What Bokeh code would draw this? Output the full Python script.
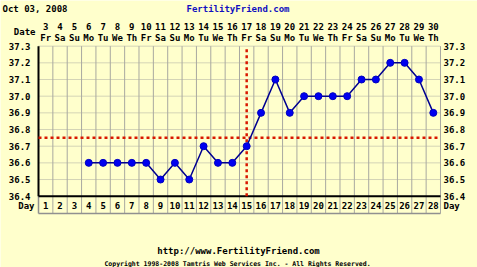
from bokeh.plotting import figure
from bokeh.models import Range1d, ColumnDataSource
from bokeh.core.properties import value
from bokeh.embed import file_html
from bokeh.resources import INLINE

# ---------------- data ----------------
cycle_days = list(range(1, 29))
date_numbers = [str(d) for d in range(3, 31)]
weekdays = ["Fr", "Sa", "Su", "Mo", "Tu", "We", "Th"] * 4
temp_days = list(range(4, 29))
temps = [36.6, 36.6, 36.6, 36.6, 36.6, 36.5, 36.6, 36.5, 36.7, 36.6, 36.6,
         36.7, 36.9, 37.1, 36.9, 37.0, 37.0, 37.0, 37.0, 37.1, 37.1, 37.2,
         37.2, 37.1, 36.9]
temp_ticks = [36.4, 36.5, 36.6, 36.7, 36.8, 36.9, 37.0, 37.1, 37.2, 37.3]
coverline = 36.75
ovulation_day = 15
title_text = "Oct 03, 2008"
site_text = "FertilityFriend.com"
url_text = "http://www.FertilityFriend.com"
copy_text = "Copyright 1998-2008 Tamtris Web Services Inc. - All Rights Reserved."

# ---------------- layout helpers (pixel -> data) ----------------
W, H = 477, 267
X0, COLW = 38.0, 14.357      # left edge of plot, column width in px
Y364, ROWH = 195.7, 166.7    # pixel y of 36.4, px per degree
def dx(px):
    return 0.5 + (px - X0) / COLW
def dy(py):
    return 36.4 + (Y364 - py) / ROWH

BG = "#FFFFCC"
FONT = value("DejaVu Sans Mono")

p = figure(width=W, height=H, output_backend="svg", toolbar_location=None,
           x_range=Range1d(dx(0), dx(W)), y_range=Range1d(dy(H), dy(0)),
           min_border=0, border_fill_color=BG, background_fill_color=BG)
p.axis.visible = False
p.grid.visible = False
p.outline_line_color = None

tmin, tmax = temp_ticks[0], temp_ticks[-1]
xl, xr = 0.5, len(cycle_days) + 0.5
row_bottom = dy(213)

# horizontal dotted grid
p.segment(x0=[xl] * len(temp_ticks), x1=[xr] * len(temp_ticks), y0=temp_ticks, y1=temp_ticks,
          line_color="#A8A8A0", line_width=1, line_dash="1 1")
# vertical grid / cell separators
vx = [d + 0.5 for d in cycle_days]
p.segment(x0=vx, x1=vx, y0=[row_bottom] * len(vx), y1=[tmax] * len(vx),
          line_color="#A8A8A0", line_width=1)
# day row bottom
p.segment(x0=[xl], x1=[xr], y0=[row_bottom], y1=[row_bottom], line_color="#909090", line_width=1.5)
p.segment(x0=[xl], x1=[xl], y0=[row_bottom], y1=[tmin], line_color="#909090", line_width=1.5)
# black axes
p.segment(x0=[xl, xl], x1=[xl, xr], y0=[tmax, tmin], y1=[tmin, tmin], line_color="black", line_width=2)

# coverline & ovulation line
p.segment(x0=[xl], x1=[xr], y0=[coverline], y1=[coverline], line_color="#D81800",
          line_width=2.5, line_dash="3 3")
p.segment(x0=[ovulation_day], x1=[ovulation_day], y0=[tmin], y1=[tmax], line_color="#D81800",
          line_width=2.5, line_dash="3 3")

# temperature line
src = ColumnDataSource(dict(x=temp_days, y=temps))
p.line("x", "y", source=src, line_color="#000090", line_width=1.5)
p.scatter("x", "y", source=src, size=7, fill_color="#0000F0", line_color="#0000C0")

def txt(x, y, t, size="9px", align="center", color="black", baseline="middle"):
    p.text(x=x, y=y, text=t, text_font=FONT, text_font_size=size, text_font_style="bold",
           text_align=align, text_baseline=baseline, text_color=color)

# header rows
txt(cycle_days, [dy(26)] * 28, date_numbers)
txt(cycle_days, [dy(37)] * 28, weekdays)
txt([dx(35)], [dy(31)], ["Date"], align="right")
# day row
txt(cycle_days, [dy(205)] * 28, [str(d) for d in cycle_days])
txt([dx(34)], [dy(205)], ["Day"], align="right")
txt([dx(443)], [dy(205)], ["Day"], align="left")
# temperature labels
tl = ["%.1f" % t for t in temp_ticks]
txt([dx(30)] * len(temp_ticks), temp_ticks, tl, align="right")
txt([dx(443)] * len(temp_ticks), temp_ticks, tl, align="left")
# titles
txt([dx(2)], [dy(8)], [title_text], align="left")
txt([dx(237.5)], [dy(8)], [site_text], color="#1010C0")
txt([dx(238)], [dy(250)], [url_text])
txt([dx(237)], [dy(263)], [copy_text], size="6.5px")

open("out.html", "w").write(file_html(p, INLINE))
